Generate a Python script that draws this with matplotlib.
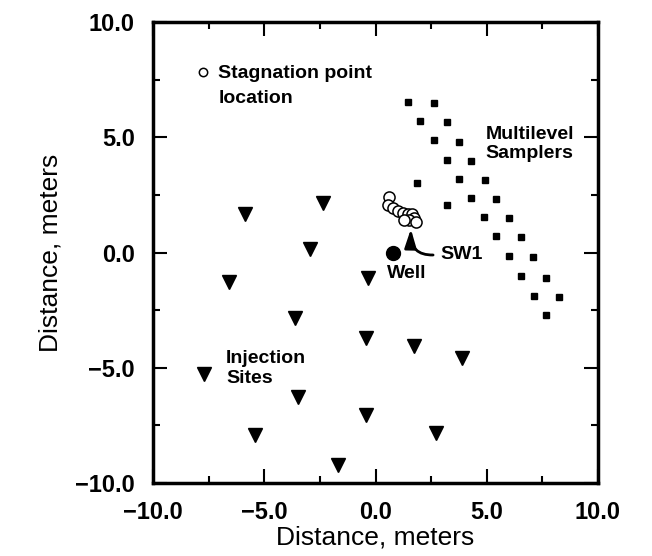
import numpy as np
import matplotlib
matplotlib.use("Agg")
import matplotlib.pyplot as plt
from matplotlib.ticker import MultipleLocator, FuncFormatter

# точки нагнетания (треугольники)
inj_x = [-5.86, -2.37, -2.93, -6.57, -0.34, -3.60, -0.44, -7.70, -3.49, -0.42,
         -5.41, -1.68, 1.74, 3.89, 2.74]
inj_y = [1.65, 2.15, 0.14, -1.30, -1.09, -2.84, -3.70, -5.26, -6.27, -7.06,
         -7.93, -9.22, -4.04, -4.57, -7.83]

# многоуровневые пробоотборники (квадраты)
ml_x = [1.48, 2.64, 2.00, 3.20, 2.64, 3.74, 3.20, 4.30, 1.86, 3.74, 4.90, 4.30, 5.43,
        3.20, 4.87, 6.00, 5.40, 6.56, 6.00, 7.08, 6.56, 7.65, 7.11, 8.25, 7.68]
ml_y = [6.51, 6.47, 5.71, 5.65, 4.86, 4.79, 4.03, 3.98, 3.02, 3.21, 3.16, 2.37, 2.34,
        2.08, 1.53, 1.50, 0.71, 0.67, -0.15, -0.19, -1.01, -1.11, -1.88, -1.95, -2.71]

# положения точки застоя (открытые кружки)
stag_x = [0.61, 0.56, 0.79, 1.02, 1.24, 1.47, 1.65, 1.74, 1.51, 1.29, 1.83]
stag_y = [2.40, 2.05, 1.92, 1.79, 1.71, 1.66, 1.66, 1.49, 1.40, 1.40, 1.32]

well_x, well_y = [0.77], [0.0]
sw1_tip = (1.59, 1.02)
sw1_text = (2.9, -0.08)

plt.rcParams["font.family"] = "Liberation Sans"
ANN = dict(fontsize=14, fontweight="bold")

fig = plt.figure(figsize=(6.52, 5.56), dpi=100)
ax = fig.add_axes([153 / 652, 1 - 483 / 556, 445 / 652, 461 / 556])

ax.plot(inj_x, inj_y, "v", color="black", ms=9.5, ls="none")
ax.plot(ml_x, ml_y, "s", color="black", ms=5, ls="none")
stag, = ax.plot(stag_x, stag_y, "o", mfc="white", mec="black", mew=1.1, ms=8, ls="none",
                label="Stagnation point\nlocation")
ax.plot(well_x, well_y, "o", color="black", ms=10, ls="none")

ax.annotate("SW1", xy=sw1_tip, xytext=sw1_text, va="center", ha="left", **ANN,
            arrowprops=dict(arrowstyle="-|>,head_length=0.8,head_width=0.25", color="black",
                            lw=2, shrinkA=3, shrinkB=0, relpos=(0, 0.5),
                            connectionstyle="arc3,rad=-0.6"))
ax.text(0.53, -0.93, "Well", ha="left", va="center", **ANN)
ax.text(4.94, 4.7, "Multilevel\nSamplers", ha="left", va="center", linespacing=1.2, **ANN)
ax.text(-6.72, -5.03, "Injection\nSites", ha="left", va="center", linespacing=1.25, **ANN)

leg = ax.legend(handles=[stag], loc="upper left", bbox_to_anchor=(0.099, 0.906),
                frameon=False, borderpad=0, borderaxespad=0, handlelength=0.6,
                handletextpad=0.5, markerscale=0.75,
                prop=dict(family="Liberation Sans", size=14, weight="bold"))
leg.get_texts()[0].set_linespacing(1.6)
# кружок легенды — на уровне первой строки, как в оригинале
for col in leg._legend_handle_box.get_children():
    for item in col.get_children():
        item.align = "top"

ax.set_xlim(-10, 10)
ax.set_ylim(-10, 10)
fmt = FuncFormatter(lambda v, p: f"{v:.1f}".replace("-", "\u2212"))
for a in (ax.xaxis, ax.yaxis):
    a.set_major_locator(MultipleLocator(5))
    a.set_minor_locator(MultipleLocator(2.5))
    a.set_major_formatter(fmt)
ax.tick_params(which="both", direction="in", top=True, right=True, width=1.5,
               labelsize=17, pad=13)
ax.tick_params(which="major", length=10)
ax.tick_params(which="minor", length=5)
for lab in ax.get_xticklabels() + ax.get_yticklabels():
    lab.set_fontweight("bold")
for s in ax.spines.values():
    s.set_linewidth(2.5)

ax.set_xlabel("Distance, meters", fontsize=19, labelpad=1)
ax.set_ylabel("Distance, meters", fontsize=19, labelpad=9)

fig.savefig("out.png", dpi=100)
